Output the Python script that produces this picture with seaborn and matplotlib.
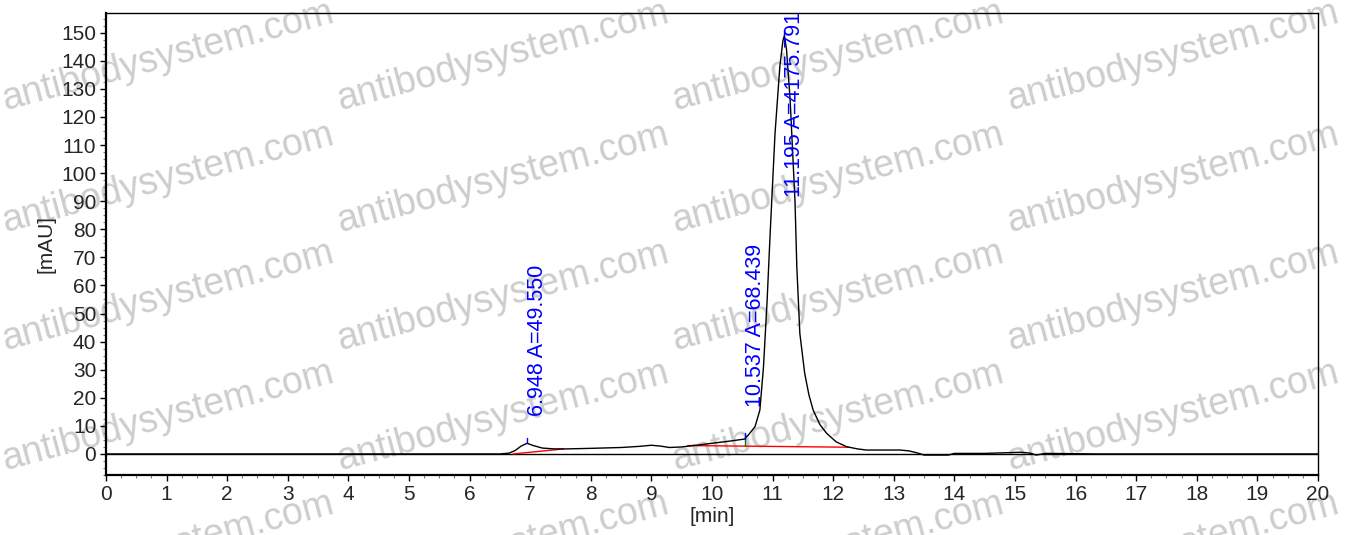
import numpy as np
import pandas as pd
import matplotlib
matplotlib.use("Agg")
import matplotlib.pyplot as plt
from matplotlib.ticker import MultipleLocator
import seaborn as sns

# chromatogram trace (time in min, signal in mAU)
time_min = [0.0, 6.5, 6.65, 6.75, 6.85, 6.948, 7.05, 7.2, 7.4, 7.6, 8.0, 8.5, 8.8,
            9.0, 9.15, 9.3, 9.5, 9.7, 10.0, 10.3, 10.537, 10.6, 10.71, 10.79, 10.85,
            10.91, 10.96, 11.04, 11.12, 11.17, 11.195, 11.23, 11.29, 11.37, 11.4,
            11.45, 11.53, 11.6, 11.67, 11.78, 11.89, 12.05, 12.22, 12.4, 12.55,
            13.1, 13.25, 13.4, 13.5, 13.9, 14.0, 14.5, 15.1, 15.25, 15.35, 15.5,
            16.4, 20.0]
signal_mau = [0.0, 0.0, 0.3, 1.2, 2.8, 3.8, 3.0, 2.1, 1.8, 1.8, 2.0, 2.3, 2.7,
              3.1, 2.8, 2.3, 2.5, 3.0, 3.8, 4.6, 5.3, 6.75, 9.7, 15.6, 31.0,
              54.7, 78.5, 114.0, 138.0, 147.0, 149.0, 144.0, 126.0, 90.0, 66.6,
              42.9, 28.7, 21.0, 15.6, 10.5, 7.4, 4.3, 2.6, 1.8, 1.4,
              1.4, 1.1, 0.3, -0.4, -0.4, 0.2, 0.2, 0.6, 0.3, -0.4, 0.2,
              0.0, 0.0]

# integration baselines (red)
base1_t = [6.72, 7.55]
base1_y = [0.0, 1.8]
base2_t = [9.6, 12.25]
base2_y = [3.0, 2.4]

# peak labels
peak_rt = [6.948, 10.537, 11.195]
peak_area = ["49.550", "68.439", "4175.791"]
peak_top = [3.8, 5.3, 149.0]
label_y = [13.5, 16.8, 91.4]

x_ticks = list(range(0, 21))
y_ticks = list(range(0, 151, 10))

df = pd.DataFrame({"time": time_min, "signal": signal_mau})

sns.set_theme(style="white")
plt.rcParams["font.family"] = ["Liberation Sans", "DejaVu Sans"]

fig = plt.figure(figsize=(13.59, 5.35), dpi=100)
ax = fig.add_axes([0.078, 0.1121, 0.8918, 0.8636])

# watermark (pixel rows from the top of the image)
wm_cols = [5, 340, 675, 1010]
wm_rows = [110, 232, 350, 470, 601]
for wx in wm_cols:
    for wy in wm_rows:
        ax.text(wx, 535 - wy, "antibodysystem.com",
                transform=None, fontsize=27, color="#cdcdcd", rotation=15,
                rotation_mode="anchor", ha="left", va="baseline",
                clip_on=False, zorder=0.5)

ax.axhline(0, color="black", lw=1.0, zorder=1)
sns.lineplot(data=df, x="time", y="signal", ax=ax, color="black", lw=1.0,
             estimator=None, sort=False, zorder=3)
ax.plot(base1_t, base1_y, color="red", lw=1.0, zorder=2)
ax.plot(base2_t, base2_y, color="red", lw=1.0, zorder=2)

# drop line at the shoulder
ax.plot([peak_rt[1], peak_rt[1]], [2.9, peak_top[1]], color="green", lw=1.0, zorder=4)

for rt, area, top, ly in zip(peak_rt, peak_area, peak_top, label_y):
    ax.plot([rt, rt], [top, top + 2.0], color="blue", lw=1.0, zorder=4)
    ax.text(rt, ly, f"{rt:.3f} A={area}", rotation=90, color="blue",
            fontsize=15.5, ha="left", va="bottom", zorder=5, clip_on=False)

ax.set_xlim(0, 20)
ax.set_ylim(-7.5, 157)
ax.set_xticks(x_ticks)
ax.set_yticks(y_ticks)
ax.xaxis.set_minor_locator(MultipleLocator(0.25))
ax.yaxis.set_minor_locator(MultipleLocator(2.5))
ax.tick_params(axis="both", which="major", direction="out", length=4, width=1,
               labelsize=15, pad=3, color="black", bottom=True, left=True)
ax.tick_params(axis="both", which="minor", direction="out", length=2, width=0.8,
               color="#777777", bottom=True, left=True)
ax.set_xlabel("[min]", fontsize=15, labelpad=2)
ax.set_ylabel("[mAU]", fontsize=15, labelpad=4)

for side in ["top", "right", "bottom", "left"]:
    ax.spines[side].set_visible(True)
    ax.spines[side].set_color("black")
ax.spines["top"].set_linewidth(1.0)
ax.spines["right"].set_linewidth(1.0)
ax.spines["bottom"].set_linewidth(1.6)
ax.spines["left"].set_linewidth(1.6)
ax.patch.set_visible(False)

fig.savefig("out.png", dpi=100)
